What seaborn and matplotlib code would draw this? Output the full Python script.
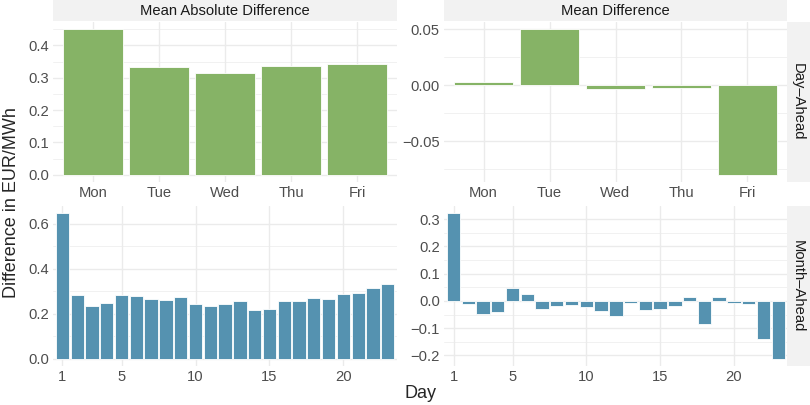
import matplotlib
matplotlib.use('Agg')
import numpy as np
import pandas as pd
import matplotlib.pyplot as plt
import seaborn as sns
from matplotlib.patches import Rectangle
from matplotlib.ticker import FixedLocator, FuncFormatter

# data
weekdays = ['Mon', 'Tue', 'Wed', 'Thu', 'Fri']
da_mean_abs = [0.450, 0.333, 0.314, 0.337, 0.343]
da_mean = [0.003, 0.050, -0.0033, -0.0021, -0.080]

days = list(range(1, 24))
ma_mean_abs = [0.647, 0.282, 0.235, 0.248, 0.284, 0.279, 0.267, 0.262, 0.273,
               0.242, 0.236, 0.245, 0.259, 0.216, 0.220, 0.256, 0.257, 0.270,
               0.266, 0.288, 0.291, 0.315, 0.334]
ma_mean = [0.321, -0.0098, -0.0476, -0.0415, 0.049, 0.0244, -0.029, -0.0195,
           -0.0146, -0.022, -0.0366, -0.055, -0.0088, -0.0317, -0.028, -0.0195,
           0.0134, -0.085, 0.013, -0.0085, -0.012, -0.140, -0.212]

col_titles = ['Mean Absolute Difference', 'Mean Difference']
row_titles = ['Day\u2013Ahead', 'Month\u2013Ahead']

GREEN = '#86B366'
BLUE = '#5592B0'
STRIP = '#F2F2F2'
GRID = '#EBEBEB'
TICK = '#4D4D4D'

sns.set_theme(style='white')
plt.rcParams['font.family'] = ['Liberation Sans', 'DejaVu Sans']

W, H = 810, 405
fig = plt.figure(figsize=(W / 100, H / 100), dpi=100)


def box(x0, y0, x1, y1):
    return [x0 / W, 1 - y1 / H, (x1 - x0) / W, (y1 - y0) / H]


def fmt(decimals):
    def f(v, _):
        if abs(v) < 1e-9:
            v = 0.0
        return f'{v:.{decimals}f}'.replace('-', '\u2212')
    return FuncFormatter(f)


def style(ax, yticks, yminor, decimals, ylim, xlim):
    ax.set_xlim(*xlim)
    ax.set_ylim(*ylim)
    ax.yaxis.set_major_locator(FixedLocator(yticks))
    ax.yaxis.set_minor_locator(FixedLocator(yminor))
    ax.yaxis.set_major_formatter(fmt(decimals))
    ax.set_axisbelow(True)
    ax.grid(True, which='major', color=GRID, lw=1.0)
    ax.grid(True, which='minor', axis='y', color=GRID, lw=0.5)
    for s in ax.spines.values():
        s.set_visible(False)
    ax.tick_params(axis='both', which='both', length=0, labelsize=10.6,
                   labelcolor=TICK, pad=3)
    ax.set_xlabel('')
    ax.set_ylabel('')


def pad_lim(vals):
    lo, hi = min(0, min(vals)), max(0, max(vals))
    p = 0.05 * (hi - lo)
    return lo - p, hi + p


panel_x = [(53.4, 396.6), (444, 787)]
panel_y = [(22, 182), (206, 366)]

# top row: day-ahead by weekday
ax = fig.add_axes(box(panel_x[0][0], panel_y[0][0], panel_x[0][1], panel_y[0][1]))
sns.barplot(x=weekdays, y=da_mean_abs, color=GREEN, saturation=1, width=0.9,
            edgecolor='white', linewidth=0.6, ax=ax)
style(ax, [0, 0.1, 0.2, 0.3, 0.4], [0.05, 0.15, 0.25, 0.35, 0.45], 1,
      pad_lim(da_mean_abs), (-0.6, 4.6))

ax = fig.add_axes(box(panel_x[1][0], panel_y[0][0], panel_x[1][1], panel_y[0][1]))
sns.barplot(x=weekdays, y=da_mean, color=GREEN, saturation=1, width=0.9,
            edgecolor='white', linewidth=0.6, ax=ax)
style(ax, [-0.05, 0, 0.05], [-0.075, -0.025, 0.025], 2,
      pad_lim(da_mean), (-0.6, 4.6))

# bottom row: month-ahead by day
df_ma = pd.DataFrame({'day': days, 'abs': ma_mean_abs, 'mean': ma_mean})

ax = fig.add_axes(box(panel_x[0][0], panel_y[1][0], panel_x[0][1], panel_y[1][1]))
sns.barplot(data=df_ma, x='day', y='abs', color=BLUE, saturation=1, width=0.9,
            native_scale=True, edgecolor='white', linewidth=0.6, ax=ax)
style(ax, [0, 0.2, 0.4, 0.6], [0.1, 0.3, 0.5], 1,
      pad_lim(ma_mean_abs), (0.39, 23.6))
ax.xaxis.set_major_locator(FixedLocator([1, 5, 10, 15, 20]))
ax.xaxis.set_major_formatter(FuncFormatter(lambda v, _: f'{int(round(v))}'))

ax = fig.add_axes(box(panel_x[1][0], panel_y[1][0], panel_x[1][1], panel_y[1][1]))
sns.barplot(data=df_ma, x='day', y='mean', color=BLUE, saturation=1, width=0.9,
            native_scale=True, edgecolor='white', linewidth=0.6, ax=ax)
style(ax, [-0.2, -0.1, 0, 0.1, 0.2, 0.3], [-0.15, -0.05, 0.05, 0.15, 0.25], 1,
      pad_lim(ma_mean), (0.35, 23.6))
ax.xaxis.set_major_locator(FixedLocator([1, 5, 10, 15, 20]))
ax.xaxis.set_major_formatter(FuncFormatter(lambda v, _: f'{int(round(v))}'))

# facet strips
for (x0, x1), title in zip(panel_x, col_titles):
    fig.add_artist(Rectangle((x0 / W, 1 - 21 / H), (x1 - x0) / W, 21 / H,
                             transform=fig.transFigure, color=STRIP, lw=0))
    fig.text((x0 + x1) / 2 / W, 1 - 11 / H, title, ha='center', va='center',
             size=10.6, color='#1A1A1A')

for (y0, y1), title in zip(panel_y, row_titles):
    fig.add_artist(Rectangle((787 / W, 1 - y1 / H), 23 / W, (y1 - y0) / H,
                             transform=fig.transFigure, color=STRIP, lw=0))
    fig.text(798 / W, 1 - (y0 + y1) / 2 / H, title, ha='center', va='center',
             rotation=-90, size=10.6, color='#1A1A1A')

fig.text(12 / W, 0.5, 'Difference in EUR/MWh', rotation=90, ha='center',
         va='center', size=13)
fig.text(420 / W, 1 - 394 / H, 'Day', ha='center', va='center', size=13)

fig.savefig('out.png', dpi=100, facecolor='white')
